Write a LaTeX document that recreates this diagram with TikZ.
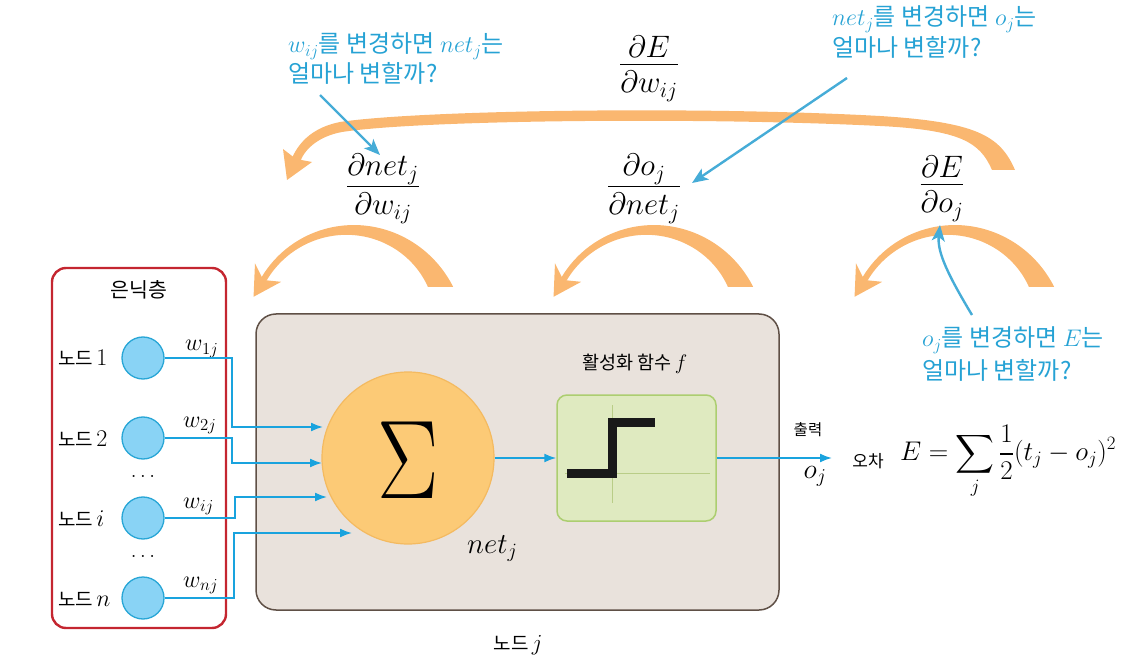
\RequirePackage{fix-cm}
\documentclass[tikz,border=0pt]{standalone}
\usepackage{fontspec}
\DeclareFontShape{OMX}{cmex}{m}{n}{<->cmex10}{}
\newfontfamily\kr{Noto Sans CJK KR}
\newcommand\am[1]{{\fontsize{24}{24}\selectfont$#1$}}
\newcommand\tfr[2]{$\frac{\displaystyle #1\rule[-4.5pt]{0pt}{4.5pt}}{\displaystyle\rule{0pt}{26.5pt}#2}$}
\usetikzlibrary{arrows.meta,calc}
\definecolor{arcor}{RGB}{250,183,112}
\definecolor{annot}{RGB}{70,172,215}
\definecolor{annottext}{RGB}{38,162,212}
\definecolor{conn}{RGB}{25,163,222}
\definecolor{redb}{RGB}{196,38,48}
\definecolor{nodefill}{RGB}{137,211,245}
\definecolor{nodeline}{RGB}{40,166,214}
\definecolor{bigfill}{RGB}{233,226,220}
\definecolor{bigline}{RGB}{95,80,70}
\definecolor{sigfill}{RGB}{252,202,118}
\definecolor{sigline}{RGB}{244,186,96}
\definecolor{grfill}{RGB}{223,234,192}
\definecolor{grline}{RGB}{172,206,112}
\definecolor{axisc}{RGB}{185,205,135}
\newcommand\smallarc[1]{%
\begin{scope}
\clip (#1-160,-287) rectangle (#1+160,-200);
\fill[arcor] plot[domain=15:152,samples=80] ({#1+(103+8.5*((148-\x)/123)*((148-\x)/123))*cos(\x)},{-330+(103+8.5*((148-\x)/123)*((148-\x)/123))*sin(\x)}) -- plot[domain=152:15,samples=80] ({#1+(97-8.5*((148-\x)/123)*((148-\x)/123))*cos(\x)},{-330+(97-8.5*((148-\x)/123)*((148-\x)/123))*sin(\x)}) -- cycle;
\end{scope}
\fill[arcor] ({#1+102*cos(161)},{-330+102*sin(161)}) -- ({#1+116*cos(145)},{-330+116*sin(145)}) -- ({#1+100*cos(150)},{-330+100*sin(150)}) -- ({#1+84*cos(145)},{-330+84*sin(145)}) -- cycle;
}
\begin{document}
\begin{tikzpicture}[x=1pt,y=1pt,
  lbl/.style={font=\kr\fontsize{19}{22}\selectfont, inner sep=0pt},
  wlbl/.style={font=\fontsize{24}{26}\selectfont, inner sep=0pt, anchor=base west},
  fracl/.style={font=\fontsize{31}{34}\selectfont, inner sep=0pt},
  annotxt/.style={font=\kr\fontsize{24}{30}\selectfont, text=annottext, inner sep=0pt, anchor=base west},
  hnode/.style={circle, draw=nodeline, fill=nodefill, line width=1.3pt, minimum size=42pt, inner sep=0pt},
  connline/.style={draw=conn, line width=1.8pt, -{Latex[length=12pt,width=9pt]}},
  annarrow/.style={draw=annot, line width=2.4pt, -{Stealth[length=16pt,width=13pt,inset=4pt]}},
]
\useasboundingbox (0,0) rectangle (1130,-668);

% hidden layer box
\node[draw=redb, line width=2.4pt, rounded corners=14pt, minimum width=174pt, minimum height=360pt, inner sep=0pt] (hid) at (139,-448) {};
\node[font=\kr\fontsize{20.5}{22}\selectfont, inner sep=0pt] (hidlbl) at (139,-290) {은닉층};

% neuron j box
\node[draw=bigline, fill=bigfill, line width=1.5pt, rounded corners=20pt, minimum width=523pt, minimum height=296pt, inner sep=0pt] (nj) at (517.5,-462) {};
\node[circle, draw=sigline, fill=sigfill, line width=1.2pt, minimum size=172pt, inner sep=0pt] (sig) at (408,-458) {};
\node[font=\fontsize{112}{112}\selectfont, inner sep=0pt] (sigsym) at (408,-460) {\scalebox{0.82}[1]{$\Sigma$}};
\node[font=\fontsize{29}{30}\selectfont, inner sep=0pt, anchor=base west] (netl) at (467,-553) {$net_j$};
\node[draw=grline, fill=grfill, line width=1.5pt, rounded corners=10pt, minimum width=159pt, minimum height=126pt, inner sep=0pt] (act) at (636.5,-458) {};
\node[font=\kr\fontsize{18.5}{20}\selectfont, inner sep=0pt] (actl) at (635,-364) {활성화 함수\,{\fontsize{21}{22}\selectfont$f$}};
\coordinate (axl) at (565,-473); \coordinate (axr) at (710,-473);
\coordinate (axt) at (612,-405); \coordinate (axb) at (612,-503);
\draw[axisc, line width=0.8pt] (axl) -- (axr) (axt) -- (axb);
\coordinate (s0) at (567,-473); \coordinate (s1) at (612.5,-473);
\coordinate (s2) at (612.5,-422); \coordinate (s3) at (655,-422);
\draw[black!90, line width=9pt, miter limit=10] (s0) -- (s1) -- (s2) -- (s3);

% hidden nodes
\node[hnode] (c1) at (143,-358) {};
\node[hnode] (c2) at (143,-438) {};
\node[hnode] (ci) at (143,-518) {};
\node[hnode] (cn) at (143,-598) {};
\node[lbl, anchor=base west] (l1) at (58,-366) {노드\,{\fontsize{24}{24}\selectfont$1$}};
\node[lbl, anchor=base west] (l2) at (58,-446) {노드\,{\fontsize{24}{24}\selectfont$2$}};
\node[lbl, anchor=base west] (li) at (58,-526) {노드\,{\fontsize{24}{24}\selectfont$i$}};
\node[lbl, anchor=base west] (ln) at (58,-606) {노드\,{\fontsize{24}{24}\selectfont$n$}};
\node[font=\fontsize{21}{21}\selectfont, inner sep=0pt] (d1) at (143,-476) {$\ldots$};
\node[font=\fontsize{21}{21}\selectfont, inner sep=0pt] (d2) at (143,-556) {$\ldots$};
\node[wlbl] (w1) at (185,-351) {$w_{1j}$};
\node[wlbl] (w2) at (183,-427) {$w_{2j}$};
\node[wlbl] (wi) at (183,-508) {$w_{ij}$};
\node[wlbl] (wn) at (183,-587) {$w_{nj}$};

% connectors into sigma
\coordinate (b1) at (232,-358); \coordinate (e1) at (323,-427);
\coordinate (b2) at (232,-438); \coordinate (e2) at (322,-463);
\coordinate (bi) at (235,-518); \coordinate (ei) at (327,-497);
\coordinate (bn) at (234,-598); \coordinate (en) at (352,-533);
\draw[connline] (c1.east) -- (b1) |- (e1);
\draw[connline] (c2.east) -- (b2) |- (e2);
\draw[connline] (ci.east) -- (bi) |- (ei);
\draw[connline] (cn.east) -- (bn) |- (en);
\draw[connline] (sig.east) -- (act.west);
\coordinate (outp) at (832,-458);
\draw[connline] (act.east) -- (outp);
\node[font=\kr\fontsize{15.5}{18}\selectfont, inner sep=0pt] (outl) at (808,-430) {출력};
\node[font=\fontsize{28}{30}\selectfont, inner sep=0pt] (oj) at (815,-476) {$o_j$};
\node[font=\kr\fontsize{17}{20}\selectfont, inner sep=0pt] (errl) at (868,-461) {오차};
\node[font=\fontsize{27}{30}\selectfont, inner sep=0pt, anchor=west] (formula) at (900,-462) {$\displaystyle E=\sum_j\frac{1}{2}(t_j-o_j)^2$};
\node[lbl] (nodej) at (518,-645) {노드\,{\fontsize{23}{24}\selectfont$j$}};

% orange backprop arcs
\smallarc{350}
\smallarc{650}
\smallarc{951}
\fill[arcor] (1015,-170) .. controls (1000,-135) and (975,-122) .. (880,-116) .. controls (700,-106) and (420,-110) .. (340,-122) .. controls (315,-127) and (300,-140) .. (292,-158) -- (300,-162) .. controls (305,-148) and (320,-136) .. (342,-132) .. controls (420,-120) and (700,-117) .. (880,-126) .. controls (960,-130) and (980,-142) .. (992,-170) -- cycle;
\fill[arcor] (287,-180) -- (283,-149) -- (296,-159) -- (312,-162) -- cycle;

% fractions
\node[fracl] (f0) at (649,-69) {\tfr{\partial E}{\partial w_{ij}}};
\node[fracl] (f1) at (383,-189) {\tfr{\partial net_j}{\partial w_{ij}}};
\node[fracl] (f2) at (644,-189) {\tfr{\partial o_j}{\partial net_j}};
\node[fracl] (f3) at (942,-189) {\tfr{\partial E}{\partial o_j}};

% annotations
\node[annotxt] (t1a) at (288,-53) {\am{w_{ij}}를 변경하면 \am{net_j}는};
\node[annotxt] (t1b) at (288,-83) {얼마나 변할까?};
\node[annotxt] (t2a) at (832,-26) {\am{net_j}를 변경하면 \am{o_j}는};
\node[annotxt] (t2b) at (832,-57) {얼마나 변할까?};
\node[annotxt] (t3a) at (922,-347) {\am{o_j}를 변경하면 \am{E}는};
\node[annotxt] (t3b) at (922,-379) {얼마나 변할까?};
\coordinate (a1s) at (320,-95); \coordinate (a1e) at (380,-155);
\coordinate (a2s) at (847,-78); \coordinate (a2e) at (692,-183);
\coordinate (a3s) at (972,-315); \coordinate (a3e) at (940,-225);
\draw[annarrow] (a1s) -- (a1e);
\draw[annarrow] (a2s) -- (a2e);
\draw[annarrow] (a3s) .. controls (948,-275) and (937,-252) .. (a3e);
\end{tikzpicture}
\end{document}
